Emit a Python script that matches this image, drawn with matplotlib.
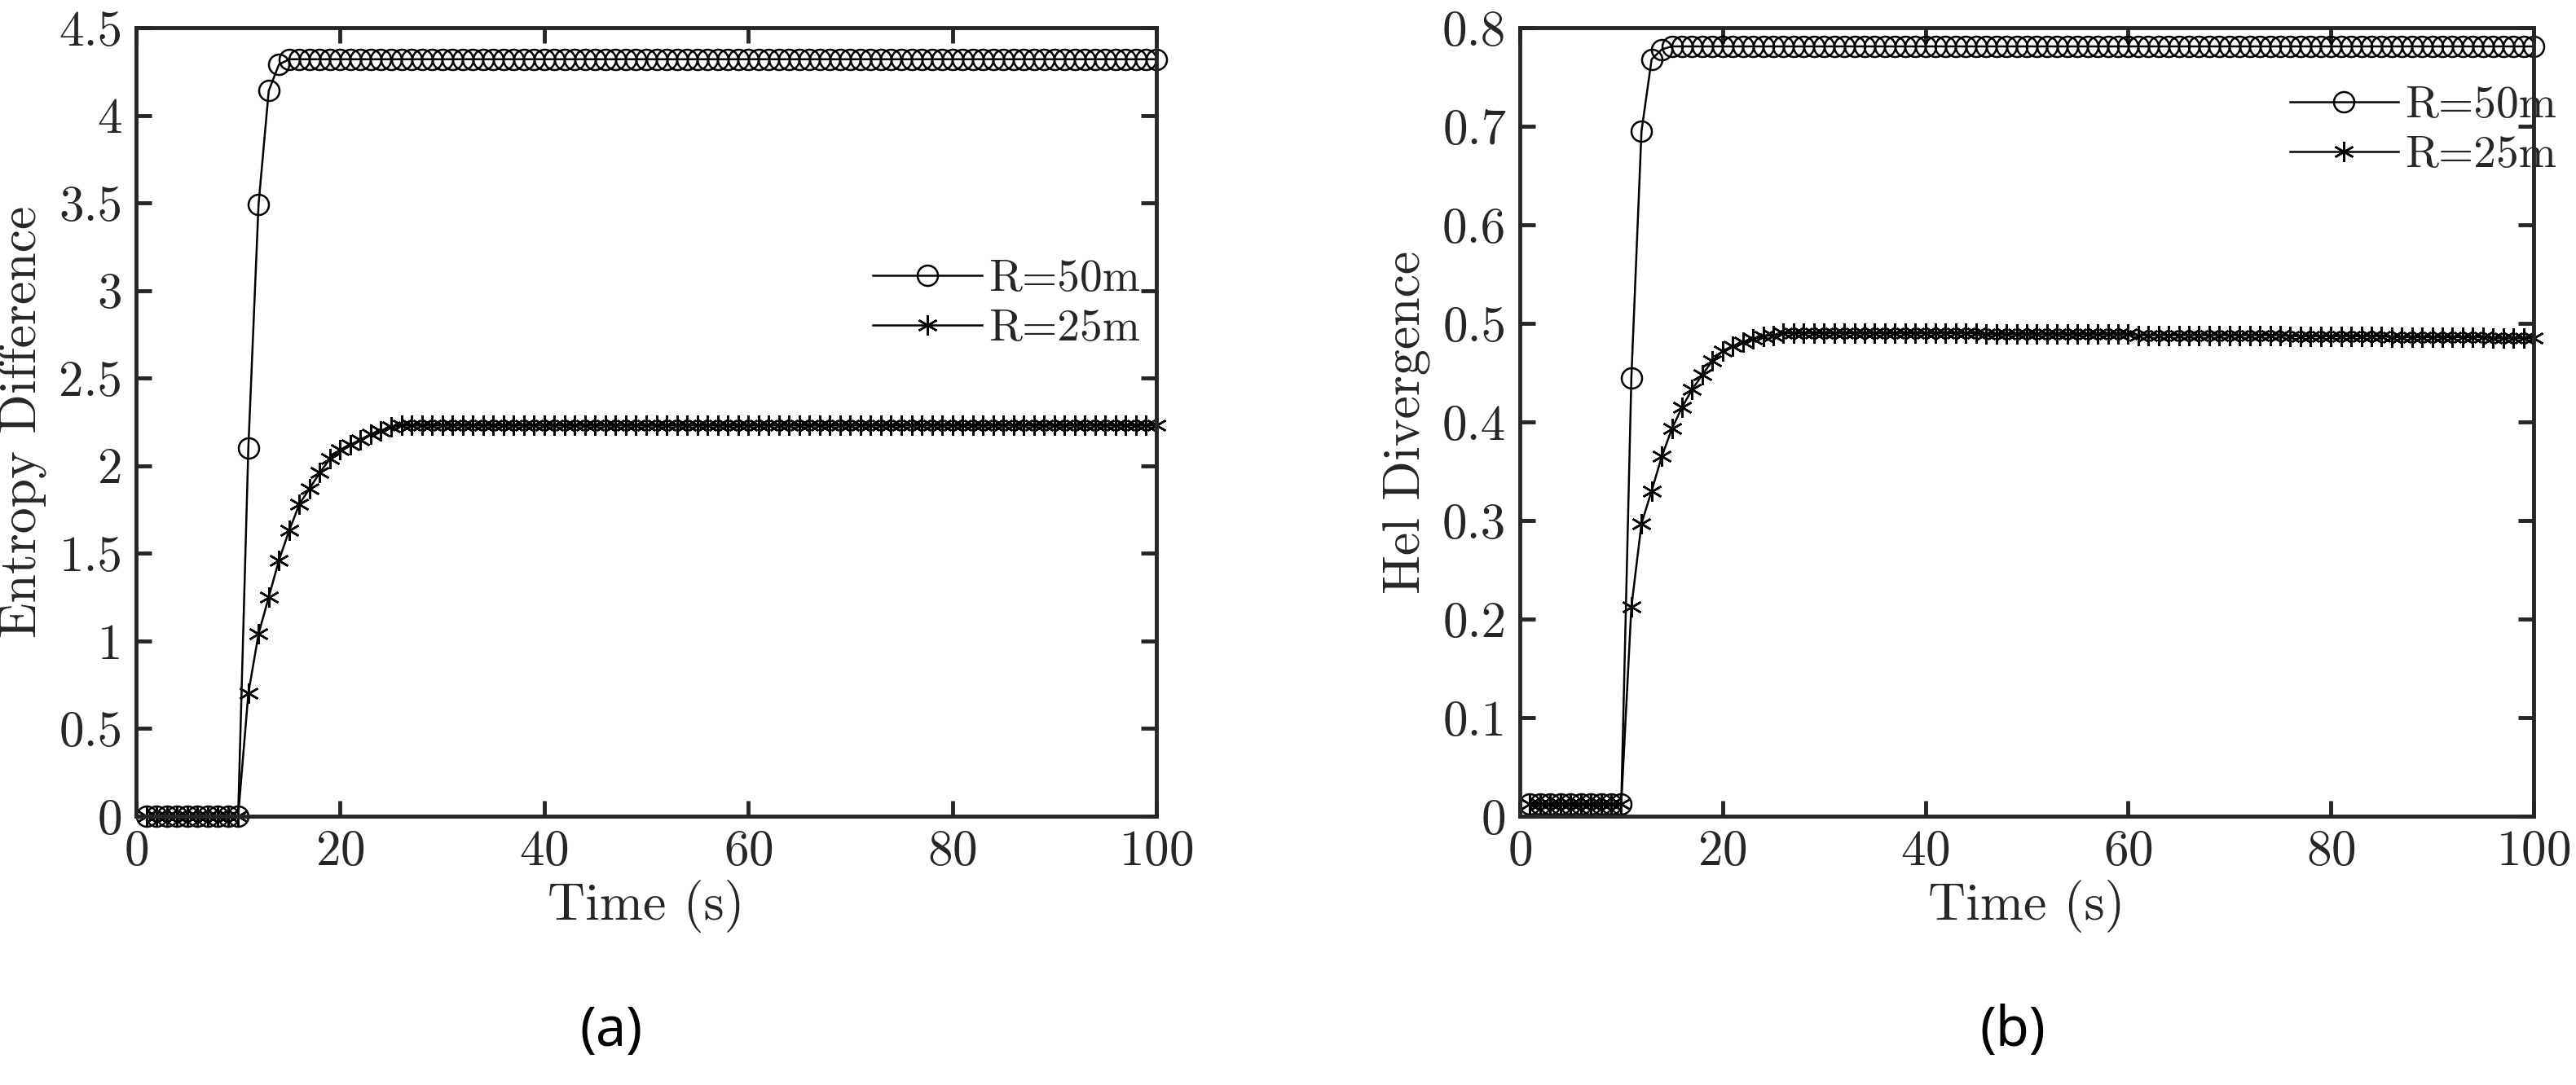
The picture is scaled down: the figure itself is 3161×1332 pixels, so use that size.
import matplotlib.pyplot as plt
import numpy as np

# time axis (s)
t = np.arange(1, 101)

# panel (a): entropy difference
ent_50 = [0.0]*10 + [2.10, 3.49, 4.14, 4.29] + [4.32]*86
ent_25 = [0.0]*10 + [0.70, 1.04, 1.25, 1.46, 1.63, 1.78, 1.87, 1.96, 2.04, 2.09,
                     2.12, 2.15, 2.18, 2.20, 2.22] + [2.23]*75

# panel (b): Hel divergence
hel_50 = [0.012]*10 + [0.445, 0.695, 0.768, 0.778] + [0.781]*86
hel_25 = ([0.012]*10 + [0.212, 0.297, 0.330, 0.365, 0.393, 0.415, 0.433, 0.448, 0.462, 0.472,
                        0.477, 0.481, 0.484, 0.487, 0.488]
          + [0.490]*20 + [0.489]*15 + [0.488]*15 + [0.487]*10 + [0.486]*10 + [0.485]*5)

plt.rcParams['font.family'] = 'cmr10'
plt.rcParams['axes.formatter.use_mathtext'] = True
grey = '#262626'
star = (6, 2, 0)  # asterisk marker

fig = plt.figure(figsize=(31.61, 13.32), dpi=100)
W, H = 3161, 1332
ax1 = fig.add_axes([167/W, 1 - 1002/H, 1252/W, 968/H])
ax2 = fig.add_axes([1865/W, 1 - 1002/H, 1244/W, 968/H])

def style(ax, ylim, yticks, ylabel):
    ax.set_xlim(0, 100)
    ax.set_ylim(*ylim)
    ax.set_xticks([0, 20, 40, 60, 80, 100])
    ax.set_yticks(yticks)
    ax.set_yticklabels([('%g' % v) for v in yticks])
    ax.tick_params(direction='in', top=True, right=True, length=14, width=3.5,
                   labelsize=44, colors=grey, pad=12)
    for s in ax.spines.values():
        s.set_linewidth(3.5)
        s.set_color(grey)
    ax.set_xlabel('Time (s)', fontsize=46, color=grey, labelpad=4)
    ax.set_ylabel(ylabel, fontsize=46, color=grey, labelpad=10)

ax1.plot(t, ent_50, 'k-', marker='o', mfc='none', ms=18, mew=1.8, lw=1.8, label='R=50m', clip_on=False)
ax1.plot(t, ent_25, 'k-', marker=star, ms=18, mew=1.8, lw=1.8, label='R=25m', clip_on=False)
style(ax1, (0, 4.5), np.arange(0, 4.51, 0.5), 'Entropy Difference')
ax1.legend(frameon=False, fontsize=40, loc='upper left', bbox_to_anchor=(0.7, 0.735),
           handlelength=2.4, handletextpad=0.15, labelspacing=0.2, labelcolor=grey,
           borderpad=0)

ax2.plot(t, hel_50, 'k-', marker='o', mfc='none', ms=18, mew=1.8, lw=1.8, label='R=50m', clip_on=False)
ax2.plot(t, hel_25, 'k-', marker=star, ms=18, mew=1.8, lw=1.8, label='R=25m', clip_on=False)
style(ax2, (0, 0.8), np.arange(0, 0.81, 0.1), 'Hel Divergence')
ax2.legend(frameon=False, fontsize=40, loc='upper left', bbox_to_anchor=(0.737, 0.955),
           handlelength=2.4, handletextpad=0.15, labelspacing=0.2, labelcolor=grey,
           borderpad=0)

fig.text(750/W, 1 - 1266/H, '(a)', fontsize=48, ha='center', va='center',
         family='Noto Sans', weight='bold')
fig.text(2470/W, 1 - 1266/H, '(b)', fontsize=48, ha='center', va='center',
         family='Noto Sans', weight='bold')

fig.savefig('out.png', dpi=100, facecolor='white')
